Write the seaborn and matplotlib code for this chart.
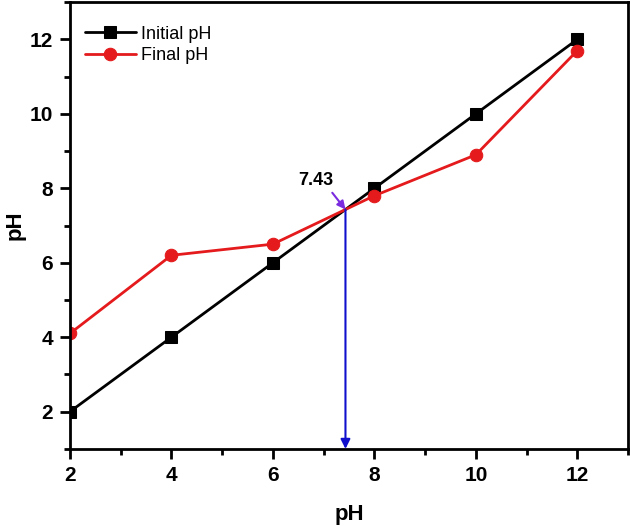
import matplotlib
matplotlib.use("Agg")
import matplotlib.pyplot as plt
import pandas as pd
import seaborn as sns

ph_values = [2, 4, 6, 8, 10, 12]
initial_ph = [2, 4, 6, 8, 10, 12]
final_ph = [4.1, 6.2, 6.5, 7.8, 8.9, 11.7]
crossing = 7.43

sns.set_style("ticks")
plt.rcParams["font.family"] = ["Liberation Sans", "DejaVu Sans"]
plt.rcParams["text.color"] = "black"
plt.rcParams["axes.labelcolor"] = "black"
plt.rcParams["xtick.color"] = "black"
plt.rcParams["ytick.color"] = "black"
plt.rcParams["axes.edgecolor"] = "black"

df = pd.DataFrame({"pH": ph_values, "Initial pH": initial_ph, "Final pH": final_ph})

fig = plt.figure(figsize=(6.3, 5.3), dpi=100)
ax = fig.add_axes([0.111, 0.153, 0.886, 0.843])

sns.lineplot(data=df, x="pH", y="Initial pH", ax=ax, color="black", marker="s",
             markersize=8, markeredgecolor="black", linewidth=2, label="Initial pH")
sns.lineplot(data=df, x="pH", y="Final pH", ax=ax, color="#e41a1c", marker="o",
             markersize=9, markeredgecolor="#e41a1c", linewidth=2, label="Final pH")

# drop line from the crossing point to the x axis
ax.annotate("", xy=(crossing, 1.0), xytext=(crossing, crossing),
            arrowprops=dict(arrowstyle="-|>", color="#1010cc", lw=1.5,
                            mutation_scale=14, shrinkA=0, shrinkB=0))
ax.annotate("", xy=(crossing, crossing), xytext=(7.17, 7.88),
            arrowprops=dict(arrowstyle="-|>", color="#7a2be0", lw=1.5,
                            mutation_scale=12, shrinkA=0, shrinkB=0))
ax.text(6.85, 8.2, f"{crossing:.2f}", fontsize=13, fontweight="bold",
        ha="center", va="center")

ax.set_xlim(2, 13)
ax.set_ylim(1, 13)
ax.set_xticks([2, 4, 6, 8, 10, 12])
ax.set_xticks(range(3, 14, 2), minor=True)
ax.set_yticks([2, 4, 6, 8, 10, 12])
ax.set_yticks(range(1, 14, 2), minor=True)
ax.tick_params(which="major", direction="out", length=7, width=2, labelsize=15, pad=5)
ax.tick_params(which="minor", direction="out", length=4, width=2)
for lbl in ax.get_xticklabels() + ax.get_yticklabels():
    lbl.set_fontweight("bold")
for sp in ax.spines.values():
    sp.set_linewidth(2)
    sp.set_visible(True)

ax.set_xlabel("pH", fontsize=16, fontweight="bold", labelpad=14)
ax.set_ylabel("pH", fontsize=16, fontweight="bold", labelpad=3)

ax.legend(loc="upper left", bbox_to_anchor=(-0.015, 1.0), frameon=False,
          fontsize=13, handlelength=2.8, borderaxespad=0.9, labelspacing=0.25,
          handletextpad=0.3)

fig.savefig("out.png", dpi=100)
